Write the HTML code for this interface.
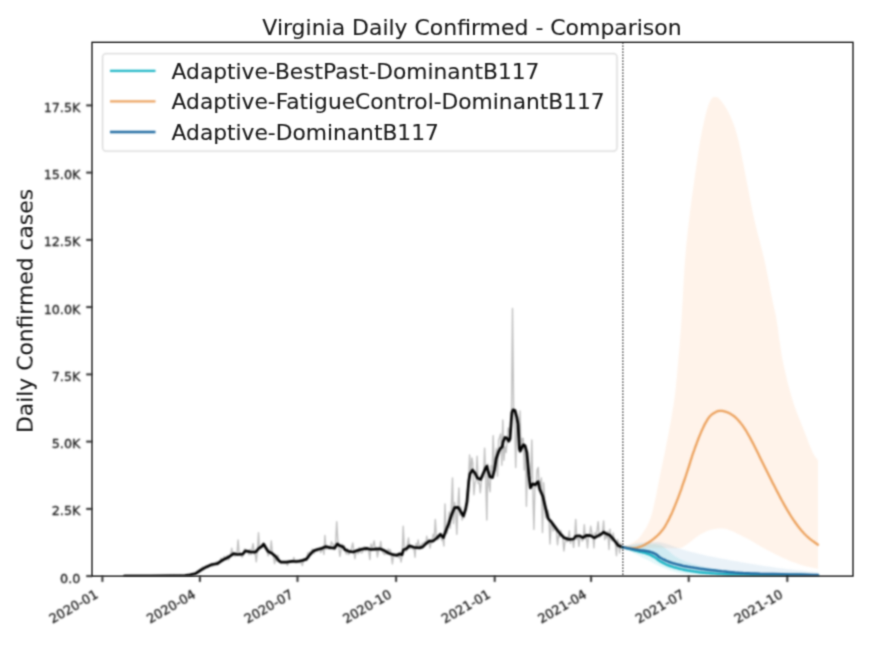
<!DOCTYPE html>
<html><head><meta charset="utf-8"><title>Virginia Daily Confirmed - Comparison</title>
<style>
html,body{margin:0;padding:0;background:#fff;}
body{width:880px;height:648px;overflow:hidden;}
svg{display:block;}
text{font-family:'DejaVu Sans','Liberation Sans',sans-serif;fill:#1a1a1a;stroke:#1a1a1a;stroke-width:0.3px;stroke-linejoin:round;}
text.big{stroke-width:0.12px;}
</style></head><body>
<svg width="880" height="648" viewBox="0 0 880 648">
<defs>
<filter id="soft" filterUnits="userSpaceOnUse" x="0" y="0" width="880" height="648" color-interpolation-filters="sRGB"><feConvolveMatrix order="5" kernelMatrix="0.00142 0.00904 0.01675 0.00904 0.00142 0.00904 0.05757 0.10673 0.05757 0.00904 0.01675 0.10673 0.19786 0.10673 0.01675 0.00904 0.05757 0.10673 0.05757 0.00904 0.00142 0.00904 0.01675 0.00904 0.00142" edgeMode="none" preserveAlpha="false"/></filter>
<filter id="soft2" filterUnits="userSpaceOnUse" x="0" y="0" width="880" height="648" color-interpolation-filters="sRGB"><feConvolveMatrix order="5" kernelMatrix="0.00003 0.00101 0.00331 0.00101 0.00003 0.00101 0.03529 0.11525 0.03529 0.00101 0.00331 0.11525 0.37636 0.11525 0.00331 0.00101 0.03529 0.11525 0.03529 0.00101 0.00003 0.00101 0.00331 0.00101 0.00003" edgeMode="none" preserveAlpha="false"/></filter>
<clipPath id="ax"><rect x="92.0" y="42.3" width="761.0" height="533.8000000000001"/></clipPath>
</defs>
<rect width="880" height="648" fill="#fff"/>
<g filter="url(#soft)">

<g clip-path="url(#ax)">
<path d="M622.9,547.2 L623.6,546.9 L624.6,546.5 L625.7,546.0 L626.9,545.5 L628.3,544.9 L629.6,544.3 L630.8,543.7 L632.0,543.0 L633.1,542.4 L634.1,541.8 L635.0,541.2 L636.0,540.6 L637.0,539.9 L638.0,539.0 L639.0,538.0 L640.1,536.7 L641.2,535.2 L642.5,533.5 L643.7,531.6 L645.0,529.5 L646.3,527.4 L647.5,525.1 L648.6,522.9 L649.6,520.6 L650.5,518.3 L651.2,516.1 L651.9,513.7 L652.5,511.4 L653.1,508.9 L653.7,506.3 L654.3,503.5 L655.0,500.6 L655.7,497.5 L656.4,494.2 L657.0,490.8 L657.7,487.3 L658.4,483.7 L659.1,480.0 L659.9,476.3 L660.6,472.5 L661.4,468.7 L662.2,464.9 L663.0,461.1 L663.8,457.2 L664.7,453.2 L665.5,449.1 L666.3,444.8 L667.2,440.4 L668.1,435.8 L669.0,430.9 L669.9,426.0 L670.9,420.9 L671.8,415.7 L672.6,410.5 L673.5,405.4 L674.2,400.3 L674.9,395.3 L675.5,390.3 L676.0,385.2 L676.5,380.2 L677.0,375.2 L677.4,370.1 L677.9,365.1 L678.3,360.1 L678.7,355.2 L679.2,350.5 L679.6,345.9 L679.9,341.3 L680.3,336.4 L680.7,331.4 L681.1,325.9 L681.5,320.0 L681.9,313.4 L682.3,306.1 L682.8,298.3 L683.2,290.3 L683.6,282.3 L684.1,274.5 L684.5,267.2 L685.0,260.6 L685.5,254.7 L685.9,249.2 L686.4,244.1 L686.9,239.3 L687.4,234.7 L687.9,230.1 L688.4,225.4 L689.0,220.5 L689.6,215.5 L690.2,210.5 L690.9,205.5 L691.5,200.4 L692.2,195.4 L692.9,190.4 L693.6,185.4 L694.3,180.4 L695.0,175.3 L695.8,170.1 L696.5,164.8 L697.3,159.6 L698.0,154.5 L698.8,149.5 L699.5,144.7 L700.3,140.3 L701.1,136.1 L701.8,132.0 L702.6,128.2 L703.4,124.5 L704.2,121.0 L704.9,117.8 L705.6,114.8 L706.3,112.2 L706.9,109.9 L707.5,107.9 L708.0,106.3 L708.5,104.8 L709.0,103.6 L709.5,102.5 L710.0,101.5 L710.5,100.5 L711.0,99.6 L711.4,98.9 L711.9,98.3 L712.3,97.8 L712.8,97.4 L713.3,97.1 L713.8,97.0 L714.4,96.9 L715.0,96.9 L715.7,96.9 L716.3,97.0 L717.0,97.2 L717.8,97.6 L718.6,98.1 L719.4,98.9 L720.4,100.0 L721.5,101.3 L722.7,102.9 L723.9,104.8 L725.3,106.8 L726.6,109.0 L727.9,111.3 L729.2,113.7 L730.4,116.2 L731.5,118.7 L732.5,121.3 L733.5,124.0 L734.5,126.8 L735.5,129.7 L736.4,133.0 L737.4,136.5 L738.4,140.3 L739.4,144.5 L740.4,149.2 L741.4,154.2 L742.4,159.4 L743.5,164.7 L744.5,170.0 L745.5,175.3 L746.5,180.4 L747.5,185.4 L748.5,190.4 L749.4,195.4 L750.4,200.4 L751.4,205.5 L752.4,210.5 L753.4,215.5 L754.5,220.5 L755.7,225.5 L756.9,230.5 L758.2,235.5 L759.5,240.5 L760.8,245.6 L762.1,250.6 L763.3,255.6 L764.5,260.6 L765.6,265.8 L766.7,271.1 L767.8,276.6 L768.9,282.0 L769.9,287.3 L770.8,292.2 L771.7,296.8 L772.5,300.8 L773.2,304.1 L773.8,306.6 L774.2,308.6 L774.7,310.4 L775.1,312.2 L775.5,314.2 L776.0,316.7 L776.6,320.0 L777.2,324.0 L777.9,328.6 L778.5,333.5 L779.2,338.7 L780.0,344.1 L780.8,349.6 L781.6,354.9 L782.6,360.1 L783.6,365.2 L784.8,370.3 L786.0,375.5 L787.2,380.7 L788.5,385.8 L789.9,390.8 L791.2,395.7 L792.6,400.3 L794.0,404.8 L795.6,409.2 L797.2,413.5 L798.8,417.6 L800.4,421.6 L801.9,425.4 L803.4,429.0 L804.7,432.4 L805.9,435.6 L807.1,438.5 L808.1,441.3 L809.1,443.9 L810.1,446.3 L811.0,448.5 L811.9,450.6 L812.7,452.4 L813.5,454.0 L814.3,455.4 L815.1,456.6 L815.9,457.6 L816.5,458.5 L817.1,459.2 L817.6,459.9 L818.0,460.4 L818.0,568.8 L816.7,568.5 L814.9,568.2 L812.9,567.8 L810.6,567.3 L808.1,566.8 L805.5,566.2 L803.0,565.5 L800.6,564.8 L798.2,564.0 L795.8,563.1 L793.3,562.2 L790.8,561.2 L788.3,560.2 L785.7,559.1 L783.1,558.0 L780.6,556.8 L778.0,555.6 L775.3,554.2 L772.5,552.8 L769.7,551.3 L767.0,549.9 L764.5,548.5 L762.1,547.2 L760.0,546.0 L758.2,545.0 L756.7,544.1 L755.3,543.3 L754.1,542.6 L753.0,541.8 L751.8,541.1 L750.5,540.4 L749.1,539.6 L747.5,538.7 L745.7,537.8 L743.9,536.9 L742.1,535.9 L740.3,535.0 L738.5,534.2 L736.9,533.4 L735.5,532.7 L734.3,532.1 L733.2,531.6 L732.2,531.2 L731.3,530.8 L730.4,530.5 L729.6,530.2 L728.8,529.9 L728.0,529.6 L727.2,529.3 L726.4,529.1 L725.6,528.9 L724.9,528.8 L724.1,528.6 L723.4,528.5 L722.6,528.5 L721.8,528.4 L721.0,528.4 L720.1,528.4 L719.3,528.4 L718.4,528.5 L717.6,528.6 L716.7,528.7 L715.9,528.9 L715.0,529.0 L714.2,529.1 L713.4,529.3 L712.6,529.4 L711.8,529.6 L710.9,529.8 L710.1,530.0 L709.2,530.3 L708.2,530.7 L707.1,531.1 L706.0,531.6 L704.8,532.2 L703.6,532.8 L702.3,533.4 L701.1,534.1 L699.9,534.8 L698.7,535.5 L697.6,536.2 L696.4,537.1 L695.3,537.9 L694.2,538.8 L693.1,539.7 L692.1,540.5 L691.1,541.2 L690.3,541.9 L689.6,542.4 L689.0,542.9 L688.4,543.3 L687.9,543.7 L687.5,544.0 L687.0,544.3 L686.5,544.7 L686.0,545.0 L685.4,545.4 L684.8,545.8 L684.3,546.1 L683.7,546.5 L683.1,546.9 L682.4,547.2 L681.7,547.5 L681.0,547.7 L680.3,547.9 L679.6,548.0 L678.8,548.1 L678.0,548.2 L677.2,548.2 L676.3,548.3 L675.2,548.3 L674.0,548.3 L672.6,548.3 L671.2,548.3 L669.6,548.2 L667.9,548.2 L666.1,548.1 L664.3,548.1 L662.3,548.0 L660.2,548.0 L658.0,548.0 L655.5,548.0 L653.0,547.9 L650.3,547.9 L647.6,547.9 L645.0,547.9 L642.4,547.8 L640.0,547.8 L637.6,547.7 L635.1,547.7 L632.6,547.6 L630.2,547.5 L627.9,547.4 L625.9,547.3 L624.2,547.2 L622.9,547.2Z" fill="#fb7a14" fill-opacity="0.092"/>
<path d="M622.9,546.5 L624.2,546.2 L626.0,545.8 L628.2,545.3 L630.5,544.7 L633.0,544.1 L635.5,543.6 L637.8,543.1 L640.0,542.8 L642.0,542.6 L644.1,542.4 L646.2,542.2 L648.2,542.1 L650.1,542.1 L651.9,542.0 L653.6,542.0 L655.0,542.0 L656.2,542.0 L657.1,542.0 L657.8,542.0 L658.4,542.0 L658.9,542.0 L659.5,542.1 L660.2,542.2 L661.0,542.4 L662.0,542.6 L663.0,542.9 L664.1,543.2 L665.2,543.5 L666.4,543.8 L667.5,544.2 L668.8,544.6 L670.0,545.0 L671.2,545.4 L672.5,545.9 L673.8,546.4 L675.1,546.9 L676.5,547.5 L677.9,548.0 L679.4,548.5 L680.9,549.0 L682.5,549.5 L684.2,550.0 L686.0,550.5 L687.8,551.0 L689.6,551.4 L691.5,551.9 L693.3,552.4 L695.0,552.8 L696.6,553.2 L698.0,553.6 L699.4,553.9 L700.8,554.3 L702.3,554.6 L704.0,555.0 L705.9,555.4 L708.2,555.9 L710.9,556.4 L714.0,557.1 L717.3,557.7 L720.9,558.4 L724.5,559.1 L728.1,559.7 L731.6,560.4 L735.0,561.0 L738.2,561.6 L741.4,562.2 L744.5,562.7 L747.6,563.3 L750.7,563.8 L753.8,564.3 L756.9,564.8 L760.0,565.3 L763.1,565.8 L766.1,566.2 L769.0,566.6 L772.0,567.1 L775.0,567.5 L778.2,567.9 L781.5,568.3 L785.0,568.8 L789.0,569.2 L793.5,569.8 L798.2,570.3 L803.1,570.8 L807.7,571.4 L811.9,571.8 L815.4,572.2 L818.0,572.5 L818.0,575.4 L811.2,575.4 L801.7,575.3 L790.4,575.2 L778.1,575.2 L765.5,575.1 L753.6,575.0 L743.2,574.9 L735.0,574.8 L729.1,574.7 L724.7,574.6 L721.4,574.4 L718.9,574.3 L716.8,574.1 L714.9,574.0 L712.7,573.7 L710.0,573.5 L706.8,573.2 L703.5,572.9 L700.1,572.5 L696.7,572.1 L693.5,571.7 L690.4,571.3 L687.5,570.9 L685.0,570.5 L682.8,570.1 L681.0,569.7 L679.4,569.3 L678.0,568.9 L676.6,568.5 L675.3,568.0 L674.0,567.5 L672.5,567.0 L670.9,566.4 L669.4,565.8 L667.8,565.1 L666.2,564.4 L664.7,563.7 L663.1,563.0 L661.6,562.2 L660.0,561.5 L658.4,560.7 L656.9,559.9 L655.3,559.0 L653.8,558.1 L652.2,557.3 L650.6,556.4 L649.1,555.7 L647.5,555.0 L645.9,554.4 L644.4,553.9 L642.8,553.5 L641.2,553.1 L639.7,552.7 L638.1,552.3 L636.5,551.9 L635.0,551.5 L633.4,551.0 L631.7,550.4 L629.9,549.9 L628.2,549.3 L626.5,548.7 L625.1,548.2 L623.8,547.8 L622.9,547.5Z" fill="#1f77b4" fill-opacity="0.095"/>
<path d="M622.9,546.5 L623.8,546.4 L625.1,546.2 L626.5,546.0 L628.2,545.8 L629.9,545.6 L631.7,545.4 L633.4,545.2 L635.0,545.0 L636.5,544.8 L638.1,544.6 L639.7,544.4 L641.2,544.2 L642.8,544.0 L644.4,543.9 L645.9,543.8 L647.5,543.8 L649.1,543.8 L650.7,543.8 L652.4,543.9 L654.1,544.0 L655.7,544.1 L657.2,544.4 L658.7,544.6 L660.0,545.0 L661.2,545.4 L662.2,546.0 L663.2,546.5 L664.1,547.2 L664.9,547.9 L665.7,548.6 L666.6,549.3 L667.5,550.0 L668.4,550.7 L669.3,551.5 L670.2,552.3 L671.1,553.1 L672.0,553.9 L672.9,554.7 L673.9,555.5 L675.0,556.2 L676.1,556.9 L677.3,557.6 L678.5,558.3 L679.7,558.9 L681.0,559.5 L682.3,560.1 L683.6,560.7 L685.0,561.2 L686.4,561.8 L687.9,562.3 L689.5,562.8 L691.1,563.2 L692.7,563.7 L694.3,564.1 L695.9,564.6 L697.5,565.0 L699.0,565.4 L700.3,565.8 L701.6,566.1 L703.0,566.5 L704.4,566.8 L706.0,567.2 L707.8,567.6 L710.0,568.0 L712.5,568.5 L715.4,569.0 L718.5,569.5 L721.7,570.1 L725.1,570.6 L728.5,571.1 L731.8,571.6 L735.0,572.0 L737.9,572.4 L740.5,572.7 L742.9,572.9 L745.4,573.2 L748.2,573.4 L751.4,573.6 L755.3,573.8 L760.0,574.0 L766.1,574.2 L773.5,574.4 L781.9,574.6 L790.6,574.7 L799.0,574.9 L806.8,575.0 L813.3,575.1 L818.0,575.2 L818.0,575.5 L809.1,575.5 L796.6,575.4 L781.8,575.4 L765.6,575.3 L749.2,575.3 L733.7,575.2 L720.3,575.1 L710.0,575.0 L702.8,574.9 L697.6,574.8 L694.0,574.6 L691.5,574.5 L689.8,574.3 L688.4,574.2 L687.0,574.0 L685.0,573.8 L682.8,573.5 L681.0,573.3 L679.4,573.0 L678.0,572.7 L676.6,572.4 L675.3,572.1 L674.0,571.7 L672.5,571.2 L670.9,570.8 L669.4,570.2 L667.8,569.6 L666.2,569.0 L664.7,568.3 L663.1,567.6 L661.6,567.0 L660.0,566.2 L658.4,565.5 L656.9,564.8 L655.3,564.0 L653.8,563.2 L652.2,562.4 L650.6,561.6 L649.1,560.8 L647.5,560.0 L645.9,559.2 L644.4,558.4 L642.8,557.7 L641.2,556.9 L639.7,556.1 L638.1,555.3 L636.5,554.5 L635.0,553.8 L633.4,552.9 L631.7,552.0 L629.9,551.1 L628.2,550.2 L626.5,549.4 L625.1,548.6 L623.8,548.0 L622.9,547.5Z" fill="#17becf" fill-opacity="0.12"/>
<path d="M124.5,575.9 L125.6,576.1 L126.6,575.9 L127.7,575.9 L128.8,575.8 L129.9,575.9 L130.9,576.1 L132.0,576.1 L133.1,576.1 L134.1,576.1 L135.2,576.1 L136.3,576.0 L137.4,575.6 L138.4,576.1 L139.5,576.1 L140.6,576.1 L141.6,575.6 L142.7,575.6 L143.8,575.8 L144.9,575.9 L145.9,576.1 L147.0,576.0 L148.1,576.1 L149.2,575.8 L150.2,576.1 L151.3,576.1 L152.4,575.8 L153.4,576.1 L154.5,576.1 L155.6,576.1 L156.7,575.8 L157.7,575.8 L158.8,575.9 L159.9,575.9 L160.9,576.1 L162.0,576.0 L163.1,575.8 L164.2,575.7 L165.2,575.8 L166.3,576.1 L167.4,575.7 L168.4,576.0 L169.5,576.0 L170.6,575.5 L171.7,575.9 L172.7,576.1 L173.8,575.2 L174.9,575.7 L175.9,575.7 L177.0,575.5 L178.1,575.8 L179.2,575.6 L180.2,575.2 L181.3,575.8 L182.4,575.8 L183.4,575.8 L184.5,575.9 L185.6,575.5 L186.7,575.3 L187.7,574.7 L188.8,575.2 L189.9,574.6 L191.0,574.4 L192.0,573.9 L193.1,573.7 L194.2,573.7 L195.2,574.2 L196.3,572.1 L197.4,571.5 L198.5,571.8 L199.5,571.9 L200.6,570.6 L201.7,568.1 L202.7,566.9 L203.8,568.7 L204.9,567.1 L206.0,566.1 L207.0,567.6 L208.1,567.3 L209.2,565.8 L210.2,565.5 L211.3,565.2 L212.4,566.3 L213.5,565.0 L214.5,564.7 L215.6,564.6 L216.7,561.8 L217.7,564.9 L218.8,563.9 L219.9,562.6 L221.0,558.3 L222.0,559.5 L223.1,561.1 L224.2,556.4 L225.2,558.4 L226.3,559.9 L227.4,555.4 L228.5,560.0 L229.5,557.4 L230.6,555.4 L231.7,548.2 L232.8,555.5 L233.8,553.9 L234.9,556.2 L236.0,552.9 L237.0,553.6 L238.1,540.0 L239.2,554.4 L240.3,552.6 L241.3,556.2 L242.4,557.1 L243.5,552.4 L244.5,549.0 L245.6,550.6 L246.7,550.8 L247.8,550.7 L248.8,554.7 L249.9,549.5 L251.0,554.6 L252.0,549.2 L253.1,543.6 L254.2,553.5 L255.3,554.6 L256.3,561.8 L257.4,550.9 L258.5,532.7 L259.5,548.3 L260.6,548.7 L261.7,546.0 L262.8,545.9 L263.8,546.0 L264.9,546.3 L266.0,549.9 L267.0,551.0 L268.1,555.9 L269.2,552.7 L270.3,551.6 L271.3,540.9 L272.4,553.8 L273.5,556.5 L274.6,563.6 L275.6,557.3 L276.7,561.0 L277.8,555.1 L278.8,558.9 L279.9,561.8 L281.0,562.7 L282.1,562.5 L283.1,561.6 L284.2,563.1 L285.3,562.6 L286.3,561.5 L287.4,565.4 L288.5,562.3 L289.6,560.9 L290.6,561.4 L291.7,561.0 L292.8,561.2 L293.8,557.5 L294.9,560.7 L296.0,562.9 L297.1,559.8 L298.1,561.2 L299.2,562.5 L300.3,562.1 L301.3,562.9 L302.4,565.5 L303.5,559.6 L304.6,559.2 L305.6,560.4 L306.7,560.5 L307.8,552.6 L308.8,558.0 L309.9,551.7 L311.0,554.9 L312.1,549.2 L313.1,551.8 L314.2,553.4 L315.3,549.9 L316.4,550.3 L317.4,551.4 L318.5,549.6 L319.6,548.8 L320.6,552.5 L321.7,550.9 L322.8,547.1 L323.9,554.4 L324.9,535.5 L326.0,549.2 L327.1,546.3 L328.1,547.6 L329.2,549.2 L330.3,548.2 L331.4,541.8 L332.4,544.1 L333.5,544.3 L334.6,549.6 L335.6,544.0 L336.7,521.8 L337.8,540.2 L338.9,548.5 L339.9,556.4 L341.0,550.1 L342.1,544.1 L343.1,547.1 L344.2,545.7 L345.3,551.6 L346.4,554.0 L347.4,548.7 L348.5,554.6 L349.6,553.6 L350.6,551.2 L351.7,547.4 L352.8,543.0 L353.9,551.6 L354.9,558.7 L356.0,551.9 L357.1,551.5 L358.2,553.7 L359.2,547.5 L360.3,552.3 L361.4,552.9 L362.4,552.6 L363.5,548.5 L364.6,546.9 L365.7,551.0 L366.7,548.7 L367.8,549.0 L368.9,552.4 L369.9,559.5 L371.0,544.0 L372.1,548.5 L373.2,544.9 L374.2,541.0 L375.3,549.9 L376.4,547.6 L377.4,557.0 L378.5,550.9 L379.6,549.0 L380.7,541.5 L381.7,549.4 L382.8,552.4 L383.9,553.9 L384.9,554.6 L386.0,550.1 L387.1,554.1 L388.2,548.9 L389.2,551.1 L390.3,549.7 L391.4,556.2 L392.4,563.9 L393.5,554.7 L394.6,554.6 L395.7,555.0 L396.7,554.1 L397.8,555.3 L398.9,557.9 L400.0,554.0 L401.0,562.0 L402.1,556.4 L403.2,526.2 L404.2,546.6 L405.3,547.9 L406.4,551.4 L407.5,543.7 L408.5,538.0 L409.6,548.6 L410.7,548.3 L411.7,546.6 L412.8,549.0 L413.9,547.7 L415.0,557.2 L416.0,543.5 L417.1,546.0 L418.2,540.0 L419.2,546.4 L420.3,545.4 L421.4,545.4 L422.5,543.0 L423.5,545.8 L424.6,541.8 L425.7,545.0 L426.7,536.3 L427.8,543.2 L428.9,539.5 L430.0,548.0 L431.0,543.2 L432.1,540.2 L433.2,534.1 L434.3,537.3 L435.3,519.5 L436.4,536.8 L437.5,539.9 L438.5,538.8 L439.6,537.5 L440.7,535.7 L441.8,540.4 L442.8,539.2 L443.9,546.0 L445.0,504.0 L446.0,533.8 L447.1,533.1 L448.2,523.7 L449.3,512.0 L450.3,528.1 L451.4,506.4 L452.5,478.0 L453.5,523.5 L454.6,502.4 L455.7,511.6 L456.8,534.3 L457.8,506.7 L458.9,488.0 L460.0,515.3 L461.0,507.2 L462.1,520.0 L463.2,517.1 L464.3,517.6 L465.3,509.8 L466.4,503.8 L467.5,489.4 L468.5,480.7 L469.6,455.0 L470.7,473.6 L471.8,458.0 L472.8,463.1 L473.9,494.7 L475.0,482.8 L476.1,480.5 L477.1,456.2 L478.2,483.4 L479.3,482.7 L480.3,492.8 L481.4,481.0 L482.5,474.6 L483.6,477.2 L484.6,448.1 L485.7,477.2 L486.8,520.0 L487.8,464.0 L488.9,484.9 L490.0,491.7 L491.1,465.7 L492.1,472.0 L493.2,435.6 L494.3,472.1 L495.3,460.6 L496.4,448.8 L497.5,476.1 L498.6,440.0 L499.6,437.4 L500.7,433.9 L501.8,465.2 L502.8,420.0 L503.9,460.3 L505.0,446.7 L506.1,452.5 L507.1,441.4 L508.2,428.0 L509.3,431.9 L510.3,433.3 L511.4,425.9 L512.5,308.5 L513.6,408.3 L514.6,416.6 L515.7,467.5 L516.8,425.3 L517.9,426.0 L518.9,436.9 L520.0,411.0 L521.1,449.9 L522.1,438.4 L523.2,438.5 L524.3,470.0 L525.4,445.7 L526.4,506.3 L527.5,459.3 L528.6,473.1 L529.6,480.5 L530.7,478.0 L531.8,440.0 L532.9,492.0 L533.9,529.4 L535.0,483.2 L536.1,487.1 L537.1,470.0 L538.2,467.4 L539.3,487.7 L540.4,484.2 L541.4,478.0 L542.5,532.5 L543.6,482.7 L544.6,497.8 L545.7,517.5 L546.8,510.9 L547.9,510.5 L548.9,515.7 L550.0,544.0 L551.1,523.9 L552.1,523.8 L553.2,531.0 L554.3,529.0 L555.4,527.4 L556.4,531.3 L557.5,544.8 L558.6,535.5 L559.7,537.0 L560.7,530.4 L561.8,534.8 L562.9,538.9 L563.9,551.0 L565.0,541.6 L566.1,540.4 L567.2,541.7 L568.2,538.5 L569.3,531.0 L570.4,543.2 L571.4,538.5 L572.5,539.4 L573.6,547.4 L574.7,536.5 L575.7,519.4 L576.8,539.4 L577.9,536.0 L578.9,546.4 L580.0,536.7 L581.1,537.8 L582.2,541.0 L583.2,540.0 L584.3,524.8 L585.4,539.0 L586.4,537.3 L587.5,548.0 L588.6,535.6 L589.7,534.7 L590.7,526.3 L591.8,532.7 L592.9,534.9 L593.9,547.9 L595.0,532.7 L596.1,535.4 L597.2,529.4 L598.2,521.7 L599.3,537.1 L600.4,536.6 L601.5,533.8 L602.5,532.3 L603.6,520.9 L604.7,539.6 L605.7,535.3 L606.8,538.0 L607.9,531.3 L609.0,549.5 L610.0,529.1 L611.1,539.3 L612.2,541.0 L613.2,533.0 L614.3,540.3 L615.4,543.6 L616.5,555.6 L617.5,539.5 L618.6,542.9 L619.7,553.0 L620.7,543.0 L621.8,547.2 L622.9,548.2" fill="none" stroke="#000" stroke-opacity="0.25" stroke-width="1.4" stroke-linejoin="round"/>
<path d="M124.5,576.0 L150.0,576.0 L170.0,575.9 L185.0,575.5 L190.0,574.8 L195.5,573.6 L200.9,570.0 L206.4,566.9 L211.8,564.5 L217.3,563.6 L222.7,560.0 L228.2,557.3 L233.6,553.6 L237.3,554.5 L242.7,554.2 L245.5,550.9 L250.0,551.8 L255.5,552.2 L259.1,548.2 L261.8,546.4 L263.6,544.0 L265.5,547.3 L268.2,551.5 L271.8,553.3 L275.5,556.4 L279.1,560.9 L280.9,562.2 L286.4,562.2 L291.8,561.3 L297.3,561.5 L302.7,560.4 L306.4,559.1 L310.0,554.5 L313.6,550.9 L317.3,549.5 L320.9,548.7 L325.5,546.7 L330.0,547.6 L334.5,548.2 L337.3,544.0 L340.0,545.8 L343.0,546.9 L345.2,549.8 L348.9,551.3 L353.3,552.0 L357.7,550.3 L362.2,549.1 L366.6,548.4 L371.0,549.5 L375.5,549.1 L379.9,548.8 L384.3,550.6 L388.8,553.2 L393.2,554.7 L396.9,555.3 L399.8,553.8 L402.0,554.7 L403.5,549.8 L406.5,548.8 L409.4,545.8 L413.9,547.3 L419.8,547.9 L422.7,546.9 L425.7,543.9 L429.4,541.0 L433.1,541.0 L436.8,538.0 L440.5,534.3 L443.4,537.6 L445.6,531.4 L448.6,524.0 L451.5,515.1 L454.5,507.7 L458.2,507.4 L461.1,512.2 L463.4,515.9 L465.6,509.2 L467.0,501.8 L468.8,481.0 L470.0,473.8 L472.5,470.0 L475.0,473.1 L477.5,478.1 L480.6,479.4 L483.1,473.8 L485.6,468.1 L486.9,466.2 L488.1,471.2 L490.0,476.9 L492.5,477.5 L494.4,470.0 L496.2,458.8 L498.8,451.2 L500.6,448.1 L502.2,446.9 L503.1,441.9 L505.0,437.5 L506.9,438.1 L508.8,441.2 L510.0,438.8 L511.0,425.0 L511.9,412.5 L513.1,409.8 L515.0,410.6 L516.9,417.5 L518.1,425.0 L518.8,437.5 L519.4,448.8 L520.2,451.2 L521.9,447.5 L523.5,444.8 L525.0,445.6 L526.9,452.5 L528.0,465.0 L528.9,475.4 L530.4,487.8 L532.7,483.9 L535.1,484.7 L538.1,481.6 L539.7,489.3 L542.8,496.2 L545.9,509.4 L548.2,518.6 L551.2,521.7 L555.1,527.1 L559.7,533.3 L564.4,537.9 L569.0,539.4 L573.6,539.0 L575.9,536.0 L579.8,535.9 L582.9,537.6 L586.7,535.3 L590.6,535.6 L594.4,537.9 L598.3,535.6 L601.4,534.0 L603.7,532.2 L606.8,534.0 L609.9,535.3 L612.9,538.7 L616.0,542.5 L618.3,545.6 L623.0,547.6" fill="none" stroke="#000" stroke-width="2.75" stroke-linejoin="round" stroke-linecap="round"/>
<path d="M622.9,547.2 L623.8,547.5 L625.1,547.8 L626.5,548.2 L628.2,548.6 L629.9,549.1 L631.7,549.6 L633.4,550.1 L635.0,550.5 L636.6,550.9 L638.2,551.3 L639.9,551.7 L641.5,552.1 L643.2,552.5 L644.7,552.9 L646.2,553.3 L647.5,553.8 L648.7,554.2 L649.8,554.7 L650.8,555.1 L651.7,555.6 L652.6,556.1 L653.4,556.6 L654.2,557.0 L655.0,557.5 L655.7,558.0 L656.4,558.4 L656.9,558.9 L657.5,559.4 L658.1,559.8 L658.6,560.3 L659.3,560.8 L660.0,561.2 L660.8,561.7 L661.7,562.2 L662.6,562.7 L663.6,563.2 L664.6,563.7 L665.6,564.2 L666.5,564.6 L667.5,565.0 L668.4,565.4 L669.3,565.7 L670.2,566.0 L671.1,566.3 L672.0,566.6 L672.9,566.9 L673.9,567.2 L675.0,567.5 L676.1,567.8 L677.3,568.1 L678.5,568.5 L679.7,568.8 L681.0,569.1 L682.3,569.4 L683.6,569.7 L685.0,570.0 L686.4,570.3 L687.9,570.6 L689.5,570.8 L691.1,571.1 L692.7,571.3 L694.3,571.6 L695.9,571.8 L697.5,572.0 L699.0,572.2 L700.3,572.4 L701.6,572.5 L703.0,572.7 L704.4,572.8 L706.0,573.0 L707.8,573.1 L710.0,573.2 L712.1,573.4 L714.0,573.6 L715.9,573.7 L718.1,573.9 L720.8,574.1 L724.4,574.2 L729.0,574.4 L735.0,574.5 L743.2,574.6 L753.6,574.7 L765.5,574.9 L778.1,575.0 L790.4,575.0 L801.7,575.1 L811.2,575.2 L818.0,575.2" fill="none" stroke="#1fb6c6" stroke-width="2.5" stroke-linecap="round"/>
<path d="M622.9,547.2 L623.9,547.3 L625.3,547.5 L626.9,547.7 L628.7,547.9 L630.6,548.1 L632.5,548.2 L634.3,548.2 L636.0,548.0 L637.6,547.7 L639.1,547.2 L640.6,546.7 L642.2,546.0 L643.7,545.3 L645.2,544.5 L646.7,543.6 L648.2,542.7 L649.7,541.7 L651.3,540.6 L652.9,539.4 L654.5,538.1 L656.0,536.8 L657.5,535.5 L658.9,534.1 L660.2,532.7 L661.4,531.3 L662.5,530.0 L663.5,528.7 L664.4,527.3 L665.3,525.8 L666.2,524.2 L667.2,522.5 L668.2,520.6 L669.3,518.5 L670.3,516.3 L671.5,513.9 L672.6,511.4 L673.7,508.7 L674.8,506.1 L675.9,503.4 L677.0,500.6 L678.1,497.8 L679.2,494.9 L680.3,491.9 L681.4,488.8 L682.4,485.7 L683.5,482.6 L684.6,479.5 L685.6,476.5 L686.6,473.5 L687.6,470.4 L688.6,467.3 L689.6,464.2 L690.5,461.1 L691.5,458.1 L692.4,455.2 L693.4,452.4 L694.4,449.7 L695.3,447.0 L696.3,444.3 L697.2,441.8 L698.2,439.3 L699.1,436.9 L700.1,434.6 L701.0,432.4 L701.9,430.3 L702.9,428.3 L703.8,426.3 L704.7,424.4 L705.7,422.7 L706.6,421.1 L707.4,419.6 L708.3,418.3 L709.1,417.2 L709.9,416.2 L710.7,415.5 L711.4,414.8 L712.2,414.2 L712.9,413.7 L713.7,413.3 L714.4,412.8 L715.1,412.4 L715.9,412.0 L716.6,411.6 L717.3,411.3 L718.0,411.1 L718.8,410.9 L719.6,410.8 L720.4,410.8 L721.3,410.8 L722.3,410.9 L723.3,411.1 L724.3,411.3 L725.3,411.6 L726.4,412.0 L727.4,412.4 L728.4,412.8 L729.4,413.3 L730.4,413.8 L731.4,414.4 L732.4,415.1 L733.4,415.8 L734.4,416.5 L735.4,417.4 L736.4,418.3 L737.4,419.3 L738.4,420.4 L739.4,421.5 L740.4,422.8 L741.5,424.1 L742.5,425.4 L743.5,426.8 L744.5,428.3 L745.5,429.9 L746.5,431.5 L747.5,433.2 L748.5,435.0 L749.5,436.8 L750.5,438.6 L751.5,440.5 L752.5,442.4 L753.5,444.3 L754.5,446.3 L755.5,448.3 L756.5,450.3 L757.5,452.3 L758.5,454.3 L759.5,456.4 L760.5,458.4 L761.5,460.4 L762.5,462.4 L763.5,464.4 L764.5,466.4 L765.5,468.5 L766.5,470.5 L767.5,472.5 L768.5,474.5 L769.5,476.5 L770.5,478.5 L771.5,480.6 L772.5,482.6 L773.6,484.6 L774.6,486.6 L775.6,488.6 L776.6,490.5 L777.6,492.4 L778.6,494.3 L779.6,496.2 L780.6,498.1 L781.6,500.0 L782.6,501.8 L783.6,503.6 L784.6,505.4 L785.6,507.1 L786.6,508.9 L787.6,510.6 L788.6,512.2 L789.6,513.9 L790.6,515.5 L791.6,517.1 L792.6,518.6 L793.6,520.1 L794.6,521.5 L795.6,523.0 L796.6,524.3 L797.6,525.7 L798.6,527.0 L799.6,528.3 L800.6,529.5 L801.6,530.7 L802.6,531.8 L803.6,532.9 L804.6,534.0 L805.6,535.0 L806.6,536.0 L807.6,536.9 L808.7,537.9 L809.9,538.9 L811.2,539.9 L812.5,540.9 L813.9,541.8 L815.1,542.7 L816.3,543.5 L817.3,544.2 L818.0,544.7" fill="none" stroke="#e8903f" stroke-opacity="0.82" stroke-width="2.3" stroke-linecap="round"/>
<path d="M622.9,547.2 L623.8,547.4 L625.1,547.6 L626.5,547.9 L628.2,548.2 L629.9,548.6 L631.7,548.9 L633.4,549.2 L635.0,549.5 L636.6,549.7 L638.2,550.0 L639.9,550.2 L641.5,550.4 L643.2,550.6 L644.7,550.8 L646.2,551.0 L647.5,551.2 L648.7,551.5 L649.8,551.8 L650.8,552.1 L651.7,552.4 L652.6,552.7 L653.4,553.0 L654.2,553.4 L655.0,553.8 L655.7,554.2 L656.4,554.6 L656.9,555.1 L657.5,555.5 L658.1,556.0 L658.6,556.5 L659.3,557.0 L660.0,557.5 L660.8,558.0 L661.7,558.5 L662.6,559.0 L663.6,559.5 L664.6,559.9 L665.6,560.4 L666.5,560.8 L667.5,561.2 L668.4,561.6 L669.3,562.0 L670.2,562.3 L671.1,562.6 L672.0,562.9 L672.9,563.2 L673.9,563.4 L675.0,563.8 L676.1,564.1 L677.3,564.4 L678.5,564.7 L679.7,565.0 L681.0,565.3 L682.3,565.7 L683.6,566.0 L685.0,566.2 L686.4,566.5 L687.9,566.8 L689.5,567.0 L691.1,567.3 L692.7,567.5 L694.3,567.8 L695.9,568.0 L697.5,568.2 L699.0,568.5 L700.3,568.7 L701.6,568.9 L703.0,569.1 L704.4,569.3 L706.0,569.5 L707.8,569.7 L710.0,570.0 L712.5,570.3 L715.4,570.6 L718.5,570.9 L721.7,571.3 L725.1,571.6 L728.5,571.9 L731.8,572.2 L735.0,572.5 L737.9,572.7 L740.5,572.9 L742.9,573.1 L745.4,573.2 L748.2,573.3 L751.4,573.5 L755.3,573.6 L760.0,573.8 L766.1,573.9 L773.5,574.1 L781.9,574.3 L790.6,574.5 L799.0,574.6 L806.8,574.8 L813.3,574.9 L818.0,575.0" fill="none" stroke="#226da3" stroke-width="2.5" stroke-linecap="round"/>
</g>
<line x1="86.2" y1="576.1" x2="92.0" y2="576.1" stroke="#000" stroke-opacity="0.85" stroke-width="1.9"/>
<text x="80.4" y="582.5" font-size="12.75" text-anchor="end">0.0</text>
<line x1="86.2" y1="508.9" x2="92.0" y2="508.9" stroke="#000" stroke-opacity="0.85" stroke-width="1.9"/>
<text x="80.4" y="515.2" font-size="12.75" text-anchor="end">2.5K</text>
<line x1="86.2" y1="441.6" x2="92.0" y2="441.6" stroke="#000" stroke-opacity="0.85" stroke-width="1.9"/>
<text x="80.4" y="448.0" font-size="12.75" text-anchor="end">5.0K</text>
<line x1="86.2" y1="374.4" x2="92.0" y2="374.4" stroke="#000" stroke-opacity="0.85" stroke-width="1.9"/>
<text x="80.4" y="380.8" font-size="12.75" text-anchor="end">7.5K</text>
<line x1="86.2" y1="307.1" x2="92.0" y2="307.1" stroke="#000" stroke-opacity="0.85" stroke-width="1.9"/>
<text x="80.4" y="313.5" font-size="12.75" text-anchor="end">10.0K</text>
<line x1="86.2" y1="239.9" x2="92.0" y2="239.9" stroke="#000" stroke-opacity="0.85" stroke-width="1.9"/>
<text x="80.4" y="246.3" font-size="12.75" text-anchor="end">12.5K</text>
<line x1="86.2" y1="172.6" x2="92.0" y2="172.6" stroke="#000" stroke-opacity="0.85" stroke-width="1.9"/>
<text x="80.4" y="179.0" font-size="12.75" text-anchor="end">15.0K</text>
<line x1="86.2" y1="105.4" x2="92.0" y2="105.4" stroke="#000" stroke-opacity="0.85" stroke-width="1.9"/>
<text x="80.4" y="111.8" font-size="12.75" text-anchor="end">17.5K</text>
<line x1="102.4" y1="576.1" x2="102.4" y2="581.9" stroke="#000" stroke-opacity="0.85" stroke-width="1.9"/>
<text transform="translate(99.0,597.0) rotate(-30)" font-size="12.85" text-anchor="end">2020-01</text>
<line x1="199.9" y1="576.1" x2="199.9" y2="581.9" stroke="#000" stroke-opacity="0.85" stroke-width="1.9"/>
<text transform="translate(196.5,597.0) rotate(-30)" font-size="12.85" text-anchor="end">2020-04</text>
<line x1="297.5" y1="576.1" x2="297.5" y2="581.9" stroke="#000" stroke-opacity="0.85" stroke-width="1.9"/>
<text transform="translate(294.1,597.0) rotate(-30)" font-size="12.85" text-anchor="end">2020-07</text>
<line x1="396.1" y1="576.1" x2="396.1" y2="581.9" stroke="#000" stroke-opacity="0.85" stroke-width="1.9"/>
<text transform="translate(392.7,597.0) rotate(-30)" font-size="12.85" text-anchor="end">2020-10</text>
<line x1="494.7" y1="576.1" x2="494.7" y2="581.9" stroke="#000" stroke-opacity="0.85" stroke-width="1.9"/>
<text transform="translate(491.3,597.0) rotate(-30)" font-size="12.85" text-anchor="end">2021-01</text>
<line x1="591.1" y1="576.1" x2="591.1" y2="581.9" stroke="#000" stroke-opacity="0.85" stroke-width="1.9"/>
<text transform="translate(587.7,597.0) rotate(-30)" font-size="12.85" text-anchor="end">2021-04</text>
<line x1="688.7" y1="576.1" x2="688.7" y2="581.9" stroke="#000" stroke-opacity="0.85" stroke-width="1.9"/>
<text transform="translate(685.3,597.0) rotate(-30)" font-size="12.85" text-anchor="end">2021-07</text>
<line x1="787.3" y1="576.1" x2="787.3" y2="581.9" stroke="#000" stroke-opacity="0.85" stroke-width="1.9"/>
<text transform="translate(783.9,597.0) rotate(-30)" font-size="12.85" text-anchor="end">2021-10</text>
<rect x="102.6" y="53.7" width="514.4" height="97.4" rx="3.5" ry="3.5" fill="#fff" fill-opacity="0.8" stroke="#ccc" stroke-opacity="0.8" stroke-width="1.3"/>
<line x1="110" y1="70.9" x2="155.5" y2="70.9" stroke="#1fb6c6" stroke-opacity="1" stroke-width="2.4"/>
<line x1="110" y1="101.4" x2="155.5" y2="101.4" stroke="#e8903f" stroke-opacity="0.82" stroke-width="2.4"/>
<line x1="110" y1="132.0" x2="155.5" y2="132.0" stroke="#226da3" stroke-opacity="1" stroke-width="2.4"/>
</g>
<g filter="url(#soft2)">
<line x1="622.9" y1="42.3" x2="622.9" y2="576.1" stroke="#000" stroke-width="1.15" stroke-dasharray="1.7 1.3" stroke-opacity="0.72"/>
<rect x="92.0" y="42.3" width="761.0" height="533.8000000000001" fill="none" stroke="#111" stroke-width="1.35"/>
<text x="472.0" y="35.0" font-size="21.95" class="big" text-anchor="middle">Virginia Daily Confirmed - Comparison</text>
<text class="big" transform="translate(32.6,311.0) rotate(-90)" font-size="21.85" text-anchor="middle">Daily Confirmed cases</text>
<text x="171.6" y="78.7" font-size="21.75" class="big">Adaptive-BestPast-DominantB117</text>
<text x="171.6" y="109.2" font-size="21.75" class="big">Adaptive-FatigueControl-DominantB117</text>
<text x="171.6" y="139.8" font-size="21.75" class="big">Adaptive-DominantB117</text>
</g></svg></body></html>
